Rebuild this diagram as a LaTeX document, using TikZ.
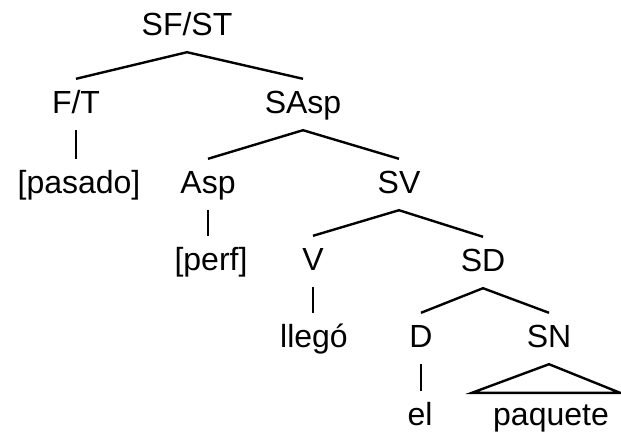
\documentclass[tikz,border=0pt]{standalone}
\usepackage{fontspec}
\setmainfont{Liberation Sans}
\usepackage{tikz}

\begin{document}
\begin{tikzpicture}[x=1pt,y=1pt,line width=2.4pt]
\tikzstyle{every node}+=[inner sep=0pt,anchor=base,text height=33pt,text depth=16pt,font=\fontsize{32}{38}\selectfont]
\useasboundingbox (0,0) rectangle (621,-432);
\node (sfst) at (187,-35) {SF/ST};
\node (ft) at (76,-113) {F/T};
\node (sasp) at (303,-113) {SAsp};
\node (pasado) at (79,-193) {[pasado]};
\node (asp) at (208,-193) {Asp};
\node (sv) at (399,-193) {SV};
\node (perf) at (211,-270) {[perf]};
\node (v) at (313,-270) {V};
\node (sd) at (483,-271) {SD};
\node (llego) at (314,-347) {llegó};
\node (d) at (421,-347) {D};
\node (sn) at (549,-347) {SN};
\node (el) at (420,-425) {el};
\node (paquete) at (551,-425) {paquete};
\draw [black] (ft.north) -- (sfst.south) -- (sasp.north);
\draw [black] (ft.south) -- (ft.south |- pasado.north);
\draw [black] (asp.north) -- (sasp.south) -- (sv.north);
\draw [black] (asp.south) -- (asp.south |- perf.north);
\draw [black] (v.north) -- (sv.south) -- (sd.north);
\draw [black] (v.south) -- (v.south |- llego.north);
\draw [black] (d.north) -- (sd.south) -- (sn.north);
\draw [black] (d.south) -- (d.south |- el.north);
\draw [black] ([xshift=-20pt,yshift=-2pt]paquete.north west) -- (sn.south) -- ([xshift=10pt,yshift=-2pt]paquete.north east) -- cycle;
\end{tikzpicture}
\end{document}
